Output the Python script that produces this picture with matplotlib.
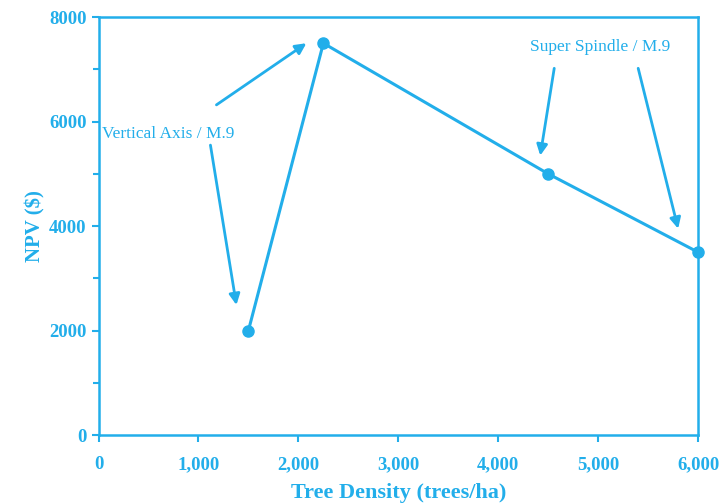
import matplotlib
matplotlib.use('Agg')
import matplotlib.pyplot as plt
from matplotlib.ticker import FuncFormatter, MultipleLocator

# Tree density vs NPV
density = [1500, 2250, 4500, 6000]
npv = [2000, 7500, 5000, 3500]

x_ticks = [0, 1000, 2000, 3000, 4000, 5000, 6000]
y_ticks = [0, 2000, 4000, 6000, 8000]

BLUE = '#22aeea'

plt.rcParams['font.family'] = ['Liberation Serif', 'DejaVu Serif']

fig = plt.figure(figsize=(7.19, 5.03), dpi=100)
ax = fig.add_axes([0.137, 0.135, 0.834, 0.831])

ax.plot(density, npv, color=BLUE, linewidth=2.2, marker='o', markersize=8,
        clip_on=False, zorder=3)

# annotations
arrow = dict(arrowstyle='-|>', color=BLUE, lw=2, mutation_scale=16,
             shrinkA=0, shrinkB=0)
ax.text(30, 5770, 'Vertical Axis / M.9', color=BLUE, fontsize=12.5,
        ha='left', va='center')
ax.annotate('', xy=(2080, 7500), xytext=(1180, 6320), arrowprops=arrow)
ax.annotate('', xy=(1380, 2490), xytext=(1120, 5550), arrowprops=arrow)
ax.text(5020, 7430, 'Super Spindle / M.9', color=BLUE, fontsize=12.5,
        ha='center', va='center')
ax.annotate('', xy=(4420, 5350), xytext=(4560, 7020), arrowprops=arrow)
ax.annotate('', xy=(5800, 3950), xytext=(5400, 7020), arrowprops=arrow)

ax.set_xlim(0, 6000)
ax.set_ylim(0, 8000)
ax.set_xticks(x_ticks)
ax.set_yticks(y_ticks)
ax.yaxis.set_minor_locator(MultipleLocator(1000))
ax.xaxis.set_major_formatter(FuncFormatter(lambda v, p: f'{int(v):,}'))
ax.yaxis.set_major_formatter(FuncFormatter(lambda v, p: f'{int(v)}'))

for s in ax.spines.values():
    s.set_color(BLUE)
    s.set_linewidth(1.8)
ax.tick_params(colors=BLUE, labelcolor=BLUE, labelsize=13.5, width=1.5, length=5)
ax.tick_params(axis='x', pad=10)
ax.tick_params(which='minor', colors=BLUE, width=1.5, length=4)
for lbl in ax.get_xticklabels() + ax.get_yticklabels():
    lbl.set_fontweight('bold')

ax.set_xlabel('Tree Density (trees/ha)', color=BLUE, fontsize=16,
              fontweight='bold', labelpad=7)
ax.set_ylabel('NPV ($)', color=BLUE, fontsize=15, fontweight='bold', labelpad=3)

fig.savefig('out.png', dpi=100)
plt.close(fig)
